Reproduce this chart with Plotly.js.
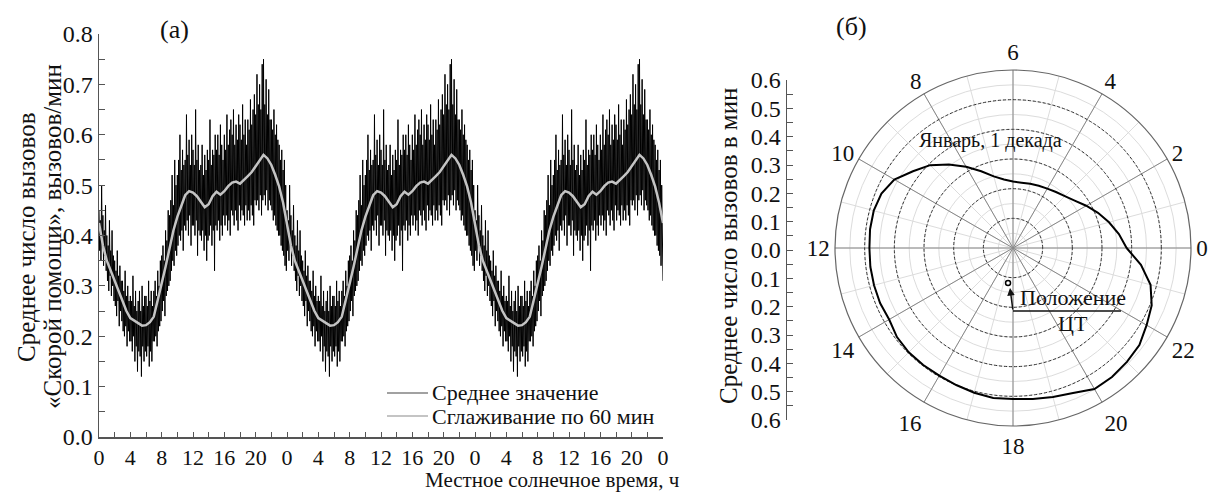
<!DOCTYPE html>
<html><head><meta charset="utf-8">
<script src="https://cdn.plot.ly/plotly-3.0.1.min.js"></script>
<style>html,body{margin:0;padding:0;background:#fff;}#chart{width:1209px;height:493px;}</style>
</head><body><div id="chart"></div>
<script>
// ---------- DATA ----------
const xTickVals = [0,4,8,12,16,20,24,28,32,36,40,44,48,52,56,60,64,68,72];
const xTickText = ['0','4','8','12','16','20','0','4','8','12','16','20','0','4','8','12','16','20','0'];
const nDays = 3;
const rawStepMin = 5;      // minutes between raw samples
// per-day raw 5-min means (one day, repeated for each shown day), one row per hour
const rawDay = [
 0.45,0.37,0.43,0.35,0.50,0.38,0.44,0.34,0.41,0.36,0.46,0.33,
 0.40,0.31,0.38,0.29,0.43,0.32,0.37,0.28,0.41,0.30,0.36,0.27,
 0.35,0.26,0.33,0.24,0.37,0.27,0.32,0.22,0.34,0.25,0.31,0.23,
 0.31,0.21,0.29,0.20,0.33,0.22,0.28,0.18,0.30,0.21,0.27,0.19,
 0.28,0.19,0.27,0.17,0.32,0.20,0.26,0.15,0.29,0.18,0.25,0.13,
 0.27,0.17,0.29,0.16,0.25,0.12,0.30,0.18,0.26,0.15,0.28,0.17,
 0.28,0.16,0.26,0.18,0.31,0.14,0.27,0.17,0.29,0.15,0.26,0.19,
 0.29,0.19,0.31,0.20,0.28,0.18,0.33,0.21,0.30,0.22,0.35,0.23,
 0.36,0.25,0.38,0.27,0.35,0.24,0.41,0.28,0.39,0.29,0.45,0.30,
 0.44,0.31,0.47,0.33,0.52,0.35,0.46,0.34,0.55,0.37,0.50,0.36,
 0.52,0.38,0.55,0.40,0.60,0.39,0.53,0.41,0.57,0.37,0.54,0.42,
 0.55,0.41,0.64,0.43,0.56,0.40,0.59,0.44,0.54,0.38,0.60,0.42,
 0.57,0.42,0.54,0.40,0.65,0.43,0.55,0.36,0.58,0.41,0.53,0.40,
 0.54,0.39,0.58,0.41,0.52,0.37,0.56,0.40,0.53,0.35,0.57,0.39,
 0.55,0.40,0.63,0.42,0.54,0.38,0.57,0.41,0.56,0.33,0.60,0.42,
 0.57,0.41,0.60,0.43,0.56,0.39,0.62,0.42,0.58,0.40,0.55,0.44,
 0.60,0.42,0.57,0.44,0.64,0.41,0.58,0.43,0.61,0.40,0.63,0.45,
 0.60,0.44,0.65,0.42,0.58,0.45,0.62,0.43,0.59,0.41,0.64,0.46,
 0.62,0.43,0.59,0.45,0.66,0.44,0.60,0.42,0.63,0.46,0.58,0.43,
 0.63,0.45,0.61,0.43,0.67,0.46,0.62,0.44,0.65,0.42,0.68,0.47,
 0.64,0.46,0.72,0.47,0.66,0.45,0.70,0.48,0.65,0.44,0.74,0.47,
 0.75,0.48,0.66,0.46,0.71,0.49,0.64,0.45,0.69,0.47,0.63,0.46,
 0.63,0.45,0.61,0.43,0.65,0.44,0.60,0.42,0.62,0.41,0.59,0.40,
 0.58,0.40,0.55,0.38,0.57,0.37,0.53,0.36,0.55,0.34,0.50,0.33
];
const smoothStepMin = 30;
const smoothDay = [
 0.425,0.380,0.350,0.330,0.308,0.289,0.270,0.250,0.236,0.231,0.227,0.221,
 0.222,0.228,0.239,0.270,0.305,0.338,0.375,0.410,0.437,0.460,0.480,0.488,
 0.485,0.478,0.468,0.456,0.462,0.478,0.487,0.481,0.488,0.498,0.505,0.507,
 0.503,0.510,0.518,0.526,0.537,0.548,0.560,0.553,0.540,0.520,0.497,0.465
];
const seriesNames = ['Среднее значение', 'Сглаживание по 60 мин'];
// polar panel: hour of day and mean calls per minute
const polarHours = [0,0.5,1,1.5,2,2.5,3,3.5,4,4.5,5,5.5,6,6.5,7,7.5,8,8.5,9,9.5,10,10.5,11,11.5,
 12,12.5,13,13.5,14,14.5,15,15.5,16,16.5,17,17.5,18,18.5,19,19.5,20,20.5,21,21.5,22,22.5,23,23.5];
const polarR = [0.383,0.360,0.335,0.310,0.285,0.262,0.247,0.238,0.231,0.227,0.224,0.222,
 0.224,0.233,0.250,0.280,0.316,0.355,0.395,0.425,0.462,0.480,0.486,0.486,
 0.484,0.485,0.485,0.485,0.482,0.493,0.497,0.497,0.497,0.500,0.505,0.510,
 0.509,0.513,0.520,0.529,0.549,0.548,0.543,0.537,0.520,0.506,0.480,0.435];
const ctHour = [17.46];
const ctR = [0.119];
const angTickHours = [0,2,4,6,8,10,12,14,16,18,20,22];
const angTickText = ['0','2','4','6','8','10','12','14','16','18','20','22'];
const radialMajor = [0.1,0.2,0.3,0.4,0.5];
const leftScaleVals = [-0.6,-0.5,-0.4,-0.3,-0.2,-0.1,0,0.1,0.2,0.3,0.4,0.5,0.6];
const leftScaleText = ['0.6','0.5','0.4','0.3','0.2','0.1','0.0','0.1','0.2','0.3','0.4','0.5','0.6'];

// ---------- BUILD ----------
const W = 1209, H = 493;
const PX = v => v / W, PY = v => (H - v) / H;
const DEG_PER_HOUR = 15;
const FONT = '"Liberation Serif", "Times New Roman", serif';

const rawX = [], rawY = [], smX = [], smY = [];
for (let d = 0; d < nDays; d++) {
  rawDay.forEach((v, i) => { rawX.push(d * 24 + i * rawStepMin / 60); rawY.push(v); });
  smoothDay.forEach((v, i) => { smX.push(d * 24 + i * smoothStepMin / 60); smY.push(v); });
}
rawX.push(nDays * 24); rawY.push(0.31);
smX.push(nDays * 24); smY.push(smoothDay[0]);

const thetaClosed = polarHours.concat([polarHours[0]]).map(h => h * DEG_PER_HOUR);
const rClosed = polarR.concat([polarR[0]]);

const rawColor = '#000', smColor = '#c4c4c4';

const traces = [
  {type:'scatter', mode:'lines', x:rawX, y:rawY, name:seriesNames[0],
   line:{color:rawColor, width:1}, xaxis:'x', yaxis:'y', hoverinfo:'skip'},
  {type:'scatter', mode:'lines', x:smX, y:smY, name:seriesNames[1],
   line:{color:smColor, width:2.5}, xaxis:'x', yaxis:'y', hoverinfo:'skip'},
  {type:'scatter', mode:'markers', x:[0.5], y:[0], xaxis:'x2', yaxis:'y2',
   marker:{opacity:0}, showlegend:false, hoverinfo:'skip'},
  {type:'scatterpolar', subplot:'polar', r:[0], theta:[0], mode:'markers',
   marker:{opacity:0}, showlegend:false, hoverinfo:'skip'},
  {type:'scatterpolar', subplot:'polar2', r:rClosed, theta:thetaClosed, mode:'lines',
   line:{color:'#000', width:2}, showlegend:false, hoverinfo:'skip'},
  {type:'scatterpolar', subplot:'polar2', r:ctR, theta:ctHour.map(h => h * DEG_PER_HOUR), mode:'markers',
   marker:{symbol:'circle-open', size:5, color:'#000', line:{width:1.5}}, showlegend:false, hoverinfo:'skip'}
];

const polarDomain = {x:[PX(835), PX(1191)], y:[PY(426), PY(70)]};
const axisCol = '#555';
const ann = (x, y, text, size, extra) => Object.assign({xref:'paper', yref:'paper', x:PX(x), y:PY(y),
  xanchor:'center', yanchor:'middle', text:text, showarrow:false, font:{size:size, family:FONT, color:'#111'}}, extra || {});

const layout = {
  width: W, height: H,
  margin: {l:0, r:0, t:0, b:0},
  paper_bgcolor: '#fff', plot_bgcolor: '#fff',
  font: {family: FONT, color: '#111', size: 21},
  showlegend: false,
  xaxis: {domain:[PX(99), PX(663)], range:[0,72], anchor:'y',
          tickmode:'array', tickvals:xTickVals, ticktext:xTickText,
          ticks:'inside', ticklen:5, tickcolor:axisCol, tickwidth:1,
          minor:{dtick:2, tick0:0, ticks:'inside', ticklen:5, tickcolor:axisCol},
          showline:true, linecolor:axisCol, linewidth:1.5, showgrid:false, zeroline:false,
          tickfont:{size:22, family:FONT, color:'#111'}},
  yaxis: {domain:[PY(437), PY(34)], range:[0,0.8], anchor:'x',
          dtick:0.1, tick0:0, tickformat:'.1f',
          ticks:'inside', ticklen:6, tickcolor:axisCol,
          minor:{dtick:0.05, tick0:0, ticks:'inside', ticklen:6, tickcolor:axisCol},
          showline:true, linecolor:axisCol, linewidth:1.5, showgrid:false, zeroline:false,
          tickfont:{size:24, family:FONT, color:'#111'}},
  xaxis2: {domain:[PX(787), PX(788)], range:[0,1], anchor:'y2', visible:false},
  yaxis2: {domain:[PY(420), PY(80)], range:[-0.6,0.6], anchor:'x2', side:'left',
           tickmode:'array', tickvals:leftScaleVals, ticktext:leftScaleText,
           ticks:'inside', ticklen:6, tickcolor:axisCol,
           minor:{dtick:0.05, tick0:0, ticks:'inside', ticklen:6, tickcolor:axisCol},
           showline:true, linecolor:axisCol, linewidth:1.5, showgrid:false, zeroline:false,
           tickfont:{size:24, family:FONT, color:'#111'}},
  polar: {domain: polarDomain, bgcolor:'#fff',
          radialaxis:{range:[0,0.6], tick0:0, dtick:0.05, showticklabels:false, ticks:'',
                      showline:false, gridcolor:'#dcdcdc', gridwidth:1},
          angularaxis:{direction:'counterclockwise', rotation:0, thetaunit:'degrees',
                       dtick:15, showticklabels:false, ticks:'', gridcolor:'#dcdcdc',
                       showline:false}},
  polar2: {domain: polarDomain, bgcolor:'rgba(0,0,0,0)',
          radialaxis:{range:[0,0.6], tickmode:'array', tickvals:radialMajor, showticklabels:false, ticks:'',
                      showline:false, gridcolor:'#333', gridwidth:1, griddash:'3px,2px'},
          angularaxis:{direction:'counterclockwise', rotation:0, thetaunit:'degrees',
                       tickmode:'array', tickvals:angTickHours.map(h => h * DEG_PER_HOUR), ticktext:angTickText,
                       ticks:'', gridcolor:'#888', gridwidth:1,
                       showline:true, linecolor:'#666', linewidth:1.2,
                       tickfont:{size:23, family:FONT, color:'#111'}}},
  shapes: [
    {type:'line', xref:'paper', yref:'paper', x0:PX(1013), x1:PX(1121), y0:PY(311), y1:PY(311),
     line:{color:'#111', width:1.5}},
    // legend samples
    {type:'line', xref:'paper', yref:'paper', x0:PX(387), x1:PX(428), y0:PY(393), y1:PY(393),
     line:{color:'#444', width:1.2}},
    {type:'line', xref:'paper', yref:'paper', x0:PX(387), x1:PX(428), y0:PY(416), y1:PY(416),
     line:{color:smColor, width:2}}
  ],
  annotations: [
    ann(174, 30, '(a)', 26),
    ann(851, 27, '(б)', 26),
    ann(26, 237, 'Среднее число вызовов', 25, {textangle:-90}),
    ann(52, 237, '«Скорой помощи», вызовов/мин', 25, {textangle:-90}),
    ann(552, 480, 'Местное солнечное время, ч', 21),
    ann(729, 246, 'Среднее число вызовов в мин', 25, {textangle:-90}),
    ann(990, 140, 'Январь, 1 декада', 20),
    ann(1073, 297, 'Положение', 22),
    ann(1073, 323, 'ЦТ', 22),
    ann(430, 392, seriesNames[0], 22, {xanchor:'left'}),
    ann(430, 416, seriesNames[1], 22, {xanchor:'left'}),
    {xref:'paper', yref:'paper', x:PX(1010), y:PY(288), ax:3, ay:23, text:'', showarrow:true,
     arrowhead:2, arrowsize:1, arrowwidth:1.5, arrowcolor:'#111', standoff:0}
  ]
};

Plotly.newPlot('chart', traces, layout, {displayModeBar:false, staticPlot:true});
</script>
</body></html>
